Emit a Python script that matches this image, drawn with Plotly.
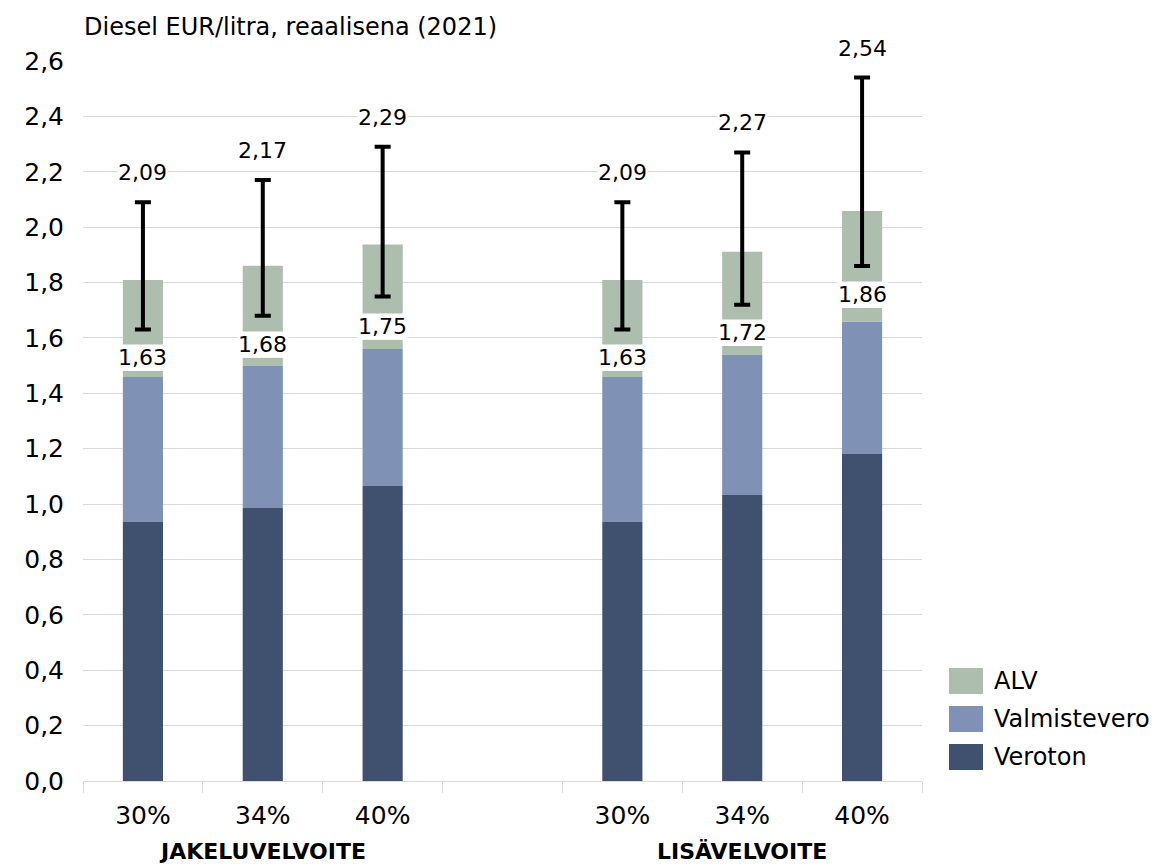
import plotly.graph_objects as go

# ---- data ----
x_pos = [0, 1, 2, 4, 5, 6]
tick_labels = ["30%", "34%", "40%", "30%", "34%", "40%"]
groups = ["JAKELUVELVOITE", "LISÄVELVOITE"]
group_pos = [1, 5]

veroton = [0.935, 0.986, 1.065, 0.935, 1.033, 1.181]
valmistevero = [0.524, 0.513, 0.495, 0.524, 0.505, 0.478]
alv = [0.022, 0.029, 0.033, 0.022, 0.033, 0.049]
alv_band_low = [1.572, 1.619, 1.684, 1.572, 1.662, 1.801]
alv_band_high = [1.809, 1.861, 1.937, 1.809, 1.911, 2.058]
range_low = [1.63, 1.68, 1.75, 1.63, 1.72, 1.86]
range_high = [2.09, 2.17, 2.29, 2.09, 2.27, 2.54]

C_VEROTON = "#405170"
C_VALM = "#7F91B4"
C_ALV = "#ADBEAE"
FONT = "DejaVu Sans, Verdana, sans-serif"
BW = 0.335

fig = go.Figure()

base_valm = veroton
base_alv = [a + b for a, b in zip(veroton, valmistevero)]
band_h = [h - l for h, l in zip(alv_band_high, alv_band_low)]

fig.add_trace(go.Bar(x=x_pos, y=veroton, base=[0] * 6, marker_color=C_VEROTON,
                     marker_line_width=0, width=BW, name="Veroton", showlegend=False))
fig.add_trace(go.Bar(x=x_pos, y=valmistevero, base=base_valm, marker_color=C_VALM,
                     marker_line_width=0, width=BW, name="Valmistevero", showlegend=False))
fig.add_trace(go.Bar(x=x_pos, y=alv, base=base_alv, marker_color=C_ALV,
                     marker_line_width=0, width=BW, name="ALV", showlegend=False))
fig.add_trace(go.Bar(x=x_pos, y=band_h, base=alv_band_low, marker_color=C_ALV,
                     marker_line_width=0, width=BW, name="ALV vaihteluväli", showlegend=False))

# range error bars
fig.add_trace(go.Scatter(
    x=x_pos, y=range_low, mode="markers",
    marker=dict(color="rgba(0,0,0,0)", size=1),
    error_y=dict(type="data", symmetric=False,
                 array=[h - l for h, l in zip(range_high, range_low)],
                 arrayminus=[0] * 6, color="black", thickness=4, width=8),
    showlegend=False, hoverinfo="skip"))

stack_top = [a + b + c for a, b, c in zip(veroton, valmistevero, alv)]

annotations = []
for xp, st, lo, hi in zip(x_pos, stack_top, range_low, range_high):
    annotations.append(dict(x=xp, y=st, xref="x", yref="y", text=f"{lo:.2f}".replace(".", ","),
                            showarrow=False, yanchor="bottom", yshift=0,
                            font=dict(family=FONT, size=22, color="black"),
                            bgcolor="white", borderpad=0))
    annotations.append(dict(x=xp, y=hi, xref="x", yref="y", text=f"{hi:.2f}".replace(".", ","),
                            showarrow=False, yanchor="bottom", yshift=16,
                            font=dict(family=FONT, size=22, color="black"),
                            bgcolor="white", borderpad=0))

# figure geometry (page has an 8px body margin)
W, H = 1153, 857
ml, mr, mt, mb = 75, 239, 53, 84
pw, ph = W - ml - mr, H - mt - mb

def py(y_fig):
    return (H - mb - y_fig) / ph

def px(x_fig):
    return (x_fig - ml) / pw

for g, gp in zip(groups, group_pos):
    annotations.append(dict(x=gp, y=py(843), xref="x", yref="paper", text=f"<b>{g}</b>",
                            showarrow=False, yanchor="middle",
                            font=dict(family="DejaVu Sans", size=22, color="black")))

# title
annotations.append(dict(x=px(74), y=py(19), xref="paper", yref="paper",
                        text="Diesel EUR/litra, reaalisena (2021)", showarrow=False,
                        xanchor="left", yanchor="middle",
                        font=dict(family=FONT, size=24, color="black")))

# manual legend
shapes = []
legend_items = [("ALV", C_ALV), ("Valmistevero", C_VALM), ("Veroton", C_VEROTON)]
leg_y = [673, 711, 749]  # figure pixel centers
for (name, col), cy in zip(legend_items, leg_y):
    shapes.append(dict(type="rect", xref="paper", yref="paper",
                       x0=px(941), x1=px(975), y0=py(cy + 13), y1=py(cy - 13),
                       fillcolor=col, line_width=0))
    annotations.append(dict(x=px(984), y=py(cy), xref="paper", yref="paper",
                            text=name, showarrow=False, xanchor="left", yanchor="middle",
                            font=dict(family=FONT, size=24, color="black")))

fig.update_layout(
    width=W, height=H,
    margin=dict(l=ml, r=mr, t=mt, b=mb, pad=0),
    paper_bgcolor="white", plot_bgcolor="white",
    barmode="overlay", separators=", ",
    font=dict(family=FONT, color="black"),
    annotations=annotations, shapes=shapes,
    xaxis=dict(range=[-0.5, 6.5], tickmode="array", tickvals=x_pos, ticktext=tick_labels,
               ticks="", showgrid=False, zeroline=False, showline=True, linecolor="#d9d9d9",
               linewidth=1, tickfont=dict(family=FONT, size=25, color="black"), ticklabelstandoff=12,
               minor=dict(tick0=-0.5, dtick=1, ticks="outside", ticklen=11, tickcolor="#d9d9d9",
                          tickwidth=1, showgrid=False)),
    yaxis=dict(range=[0, 2.6], tickmode="array", tickvals=[i * 0.2 for i in range(14)],
               tickformat=".1f", showgrid=True, gridcolor="#d9d9d9", gridwidth=1,
               zeroline=False, showline=False, ticks="",
               tickfont=dict(family=FONT, size=25, color="black"), ticklabelstandoff=18),
)
fig.update_traces(cliponaxis=False, selector=dict(type="scatter"))

fig.write_html("out.html")
